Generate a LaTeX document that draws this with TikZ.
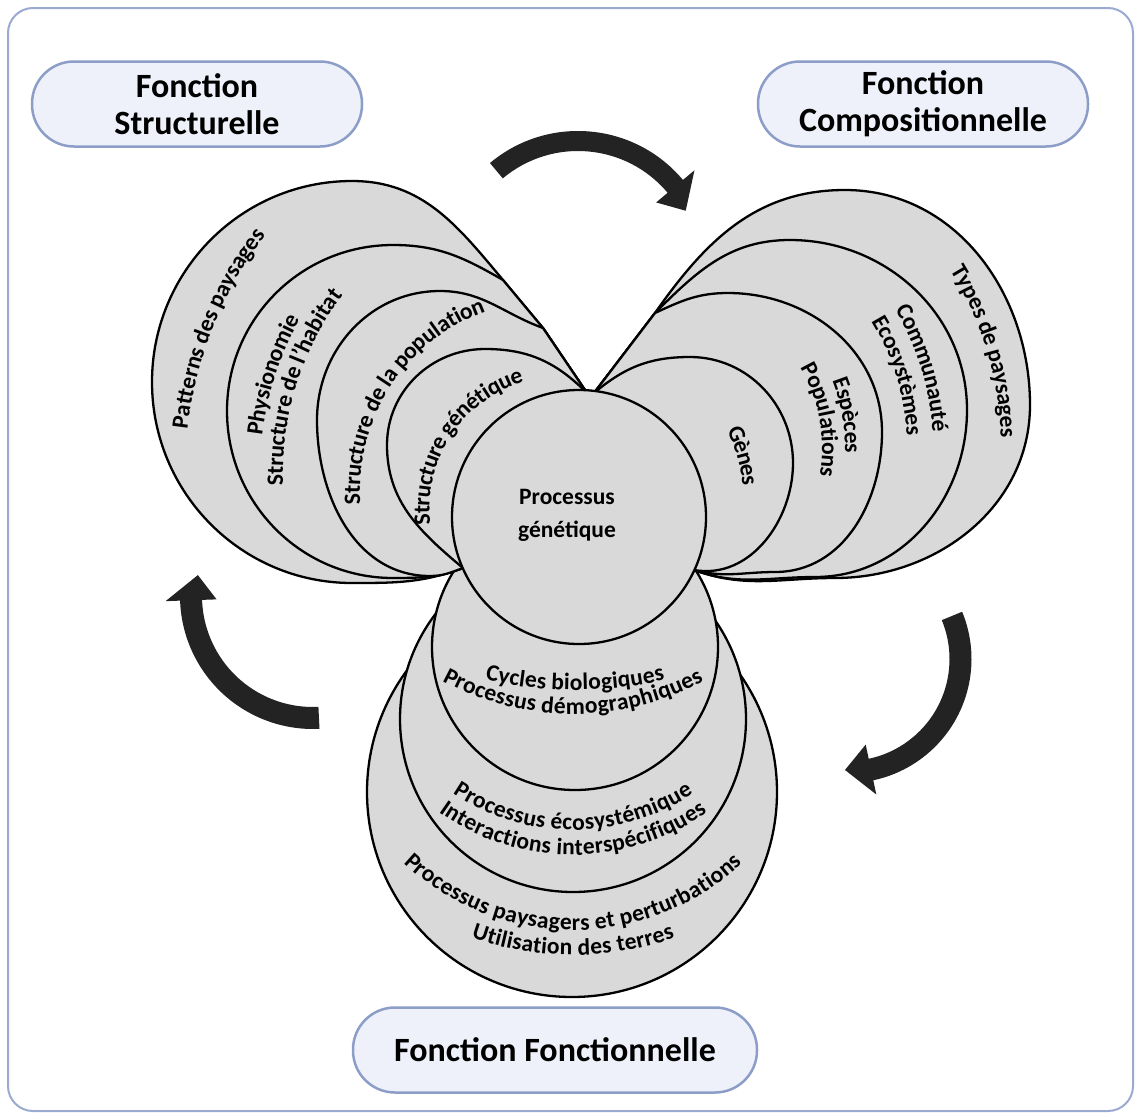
\documentclass[tikz,border=0pt]{standalone}
\usepackage{fontspec}
\setmainfont{Carlito}
\usetikzlibrary{decorations.text}
\definecolor{shapegray}{HTML}{D9D9D9}
\definecolor{boxfill}{HTML}{EEF1F9}
\definecolor{boxedge}{HTML}{8C9DC8}
\definecolor{frameedge}{HTML}{9AAAD0}
\definecolor{arrowgray}{HTML}{232323}
\newcommand\circlabfont{\fontsize{23.5}{23.5}\selectfont\bfseries}
\begin{document}
\begin{tikzpicture}[x=1pt,y=1pt,
  layer/.style={fill=shapegray,draw=black,line width=2.3pt,line join=round},
  funcbox/.style={draw=boxedge,fill=boxfill,line width=2.5pt,rounded corners=42pt,minimum width=330pt,minimum height=85pt,align=center,inner sep=0pt,font=\fontsize{34}{37}\selectfont\bfseries},
  blockarrow/.style={fill=arrowgray},
  arclabel/.style={decorate,decoration={text along path,text align=center,raise=-7pt,text={|\circlabfont|#1}}}
]
\useasboundingbox (0,0) rectangle (1135,-1119);
\draw[frameedge,line width=2pt,rounded corners=25pt] (8,-8) rectangle (1133,-1111);

% function boxes
\node[funcbox] (structurelle) at (197,-104) {Fonction\\Structurelle};
\node[funcbox] (compositionnelle) at (923,-104) {Fonction\\Compositionnelle};
\node[funcbox,minimum width=404pt] (fonctionnelle) at (555,-1050) {Fonction Fonctionnelle};

% bottom group (functional)
\draw[layer] (572,-792) circle[radius=205pt];
\draw[layer] (573,-719) circle[radius=173pt];
\draw[layer] (575,-647) circle[radius=143pt];

% left group (structural)
\coordinate (T) at (587,-393);
\coordinate (B) at (463,-568);
\coordinate (J3) at (543,-328);
\coordinate (J2) at (503,-280);
\draw[layer] (T) -- (J3) -- (J2) to[out=130,in=0] (352,-181) to[out=180,in=90] (152,-382) to[out=270,in=180] (352,-583) to[out=0,in=200] (B) -- cycle;
\draw[layer] (T) -- (J3) -- (J2) to[out=150,in=0] (393,-245) to[out=180,in=90] (227,-411) to[out=270,in=180] (393,-578) to[out=0,in=200] (B) -- cycle;
\draw[layer] (T) -- (J3) to[out=160,in=0] (440,-291) to[out=180,in=90] (317,-420) to[out=270,in=180] (430,-576) to[out=0,in=200] (B) -- cycle;
\draw[layer] (T) to[out=135,in=0] (485,-349) to[out=180,in=90] (387,-445) to[out=270,in=140] (B) -- cycle;

% right group (compositional)
\coordinate (Tr) at (594,-393);
\coordinate (Br) at (694,-570);
\coordinate (M) at (655,-313);
\draw[layer] (Tr) -- (M) to[out=55,in=180] (845,-190) to[out=0,in=90] (1030,-405) to[out=270,in=0] (835,-578) to[out=180,in=-20] (Br) -- cycle;
\draw[layer] (Tr) -- (M) to[out=45,in=180] (790,-240) to[out=0,in=90] (967,-410) to[out=270,in=0] (815,-577) to[out=180,in=-20] (Br) -- cycle;
\draw[layer] (Tr) -- (M) to[out=25,in=180] (728,-293) to[out=0,in=90] (882,-432) to[out=270,in=0] (775,-572) to[out=180,in=-15] (Br) -- cycle;
\draw[layer] (Tr) to[out=40,in=180] (690,-357) to[out=0,in=90] (793,-463) to[out=270,in=-10] (Br) -- cycle;

% centre
\node[layer,circle,minimum size=254pt,inner sep=0pt] (core) at (579,-517) {};
\node[align=center,font=\fontsize{23.5}{33}\selectfont\bfseries] (coretext) at (567,-515) {Processus\\génétique};

% labels, left
\path[shift={(575,-473)},arclabel={Patterns des paysages}] (188:397pt) arc[start angle=188,end angle=128,radius=397pt];
\path[shift={(575,-473)},arclabel={Physionomie}] (197:322pt) arc[start angle=197,end angle=127,radius=322pt];
\path[shift={(575,-473)},arclabel={Structure de l'habitat}] (197.5:299pt) arc[start angle=197.5,end angle=127.5,radius=299pt];
\path[shift={(551,-491)},arclabel={Structure de la population}] (197:198pt) arc[start angle=197,end angle=97,radius=198pt];
\path[shift={(561.5,-508.6)},arclabel={Structure génétique}] (206.7:139pt) arc[start angle=206.7,end angle=86.7,radius=139pt];

% labels, right
\path[shift={(662,-448)},arclabel={Types de paysages}] (46.7:346pt) arc[start angle=46.7,end angle=-13.3,radius=346pt];
\path[shift={(662,-448)},arclabel={Communauté}] (47:278pt) arc[start angle=47,end angle=-13,radius=278pt];
\path[shift={(662,-448)},arclabel={Ecosystèmes}] (47:252pt) arc[start angle=47,end angle=-13,radius=252pt];
\path[shift={(662,-448)},arclabel={Espèces}] (45:190pt) arc[start angle=45,end angle=-25,radius=190pt];
\path[shift={(662,-448)},arclabel={Populations}] (45:167pt) arc[start angle=45,end angle=-25,radius=167pt];
\path[shift={(600,-497)},arclabel={Gènes}] (51:150pt) arc[start angle=51,end angle=-19,radius=150pt];

% labels, bottom
\path[shift={(575,-289)},arclabel={Cycles biologiques}] (245:394pt) arc[start angle=245,end angle=295,radius=394pt];
\path[shift={(573,-439)},arclabel={Processus démographiques}] (225:268pt) arc[start angle=225,end angle=315,radius=268pt];
\path[shift={(573,-613)},arclabel={Processus écosystémique}] (215:210pt) arc[start angle=215,end angle=325,radius=210pt];
\path[shift={(573,-623)},arclabel={Interactions interspécifiques}] (215:225pt) arc[start angle=215,end angle=325,radius=225pt];
\path[shift={(573,-682)},arclabel={Processus paysagers et perturbations}] (200:241pt) arc[start angle=200,end angle=340,radius=241pt];
\path[shift={(573,-649)},arclabel={Utilisation des terres}] (230:299pt) arc[start angle=230,end angle=310,radius=299pt];

% block arrows
\fill[blockarrow,shift={(578,-268)}] (130:137pt) arc[start angle=130,end angle=40,radius=137pt] -- (40:152pt) -- (28:122pt) -- (40:102pt) -- (40:117pt) arc[start angle=40,end angle=130,radius=117pt] -- cycle;
\fill[blockarrow,shift={(847.5,-659)}] (22.4:124pt) arc[start angle=22.4,end angle=-78,radius=124pt] -- (-78:138.5pt) -- (-91.3:111pt) -- (-78:87.5pt) -- (-78:102pt) arc[start angle=-78,end angle=22.4,radius=102pt] -- cycle;
\fill[blockarrow,shift={(313,-596)}] (272.8:133pt) arc[start angle=272.8,end angle=182,radius=133pt] -- (182:147.5pt) -- (169.7:117pt) -- (182:96.5pt) -- (182:111pt) arc[start angle=182,end angle=272.8,radius=111pt] -- cycle;
\end{tikzpicture}
\end{document}
